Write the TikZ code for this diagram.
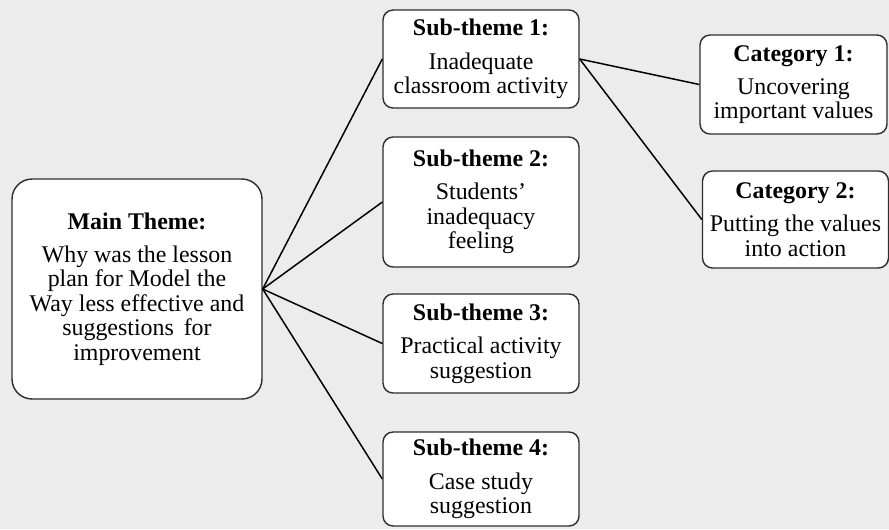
\documentclass[tikz,border=0pt]{standalone}
\usepackage{fontspec}
\setmainfont{Liberation Serif}
\usepackage{tikz}
\definecolor{bgcol}{RGB}{235,236,235}
\definecolor{edgecol}{RGB}{45,45,45}

\begin{document}
\begin{tikzpicture}[x=0.02cm, y=-0.02cm,
    every node/.style={font=\fontsize{13.6}{13.9}\selectfont},
    themebox/.style={draw=edgecol, fill=white, line width=0.8pt, align=center, inner sep=1pt},
    link/.style={black, line width=0.85pt}]
  \fill[bgcol] (0,0) rectangle (889,529);
  \useasboundingbox (0,0) rectangle (889,529);
  % main theme
  \node[themebox, rounded corners=0.4cm, minimum width=5cm, minimum height=4.4cm] (main) at (137,289)
    {\textbf{Main Theme:}\\[5pt] Why was the lesson\\ plan for Model the\\ Way less effective and\\ suggestions\, for\\ improvement};
  % sub-themes
  \node[themebox, rounded corners=0.2cm, minimum width=3.92cm, minimum height=1.96cm] (sub1) at (481,59)
    {\textbf{Sub-theme 1:}\\[5pt] Inadequate\\ classroom activity};
  \node[themebox, rounded corners=0.2cm, minimum width=3.92cm, minimum height=2.6cm] (sub2) at (481,202)
    {\textbf{Sub-theme 2:}\\[5pt] Students’\\ inadequacy\\ feeling};
  \node[themebox, rounded corners=0.2cm, minimum width=3.92cm, minimum height=1.98cm] (sub3) at (481,343.5)
    {\textbf{Sub-theme 3:}\\[5pt] Practical activity\\ suggestion};
  \node[themebox, rounded corners=0.2cm, minimum width=3.92cm, minimum height=1.88cm] (sub4) at (481,479)
    {\textbf{Sub-theme 4:}\\[5pt] Case study\\ suggestion};
  % categories
  \node[themebox, rounded corners=0.2cm, minimum width=3.74cm, minimum height=1.98cm] (cat1) at (793.5,84.5)
    {\textbf{Category 1:}\\[5pt] Uncovering\\ important values};
  \node[themebox, rounded corners=0.2cm, minimum width=3.72cm, minimum height=1.94cm] (cat2) at (795.5,219.5)
    {\textbf{Category 2:}\\[5pt] Putting the values\\ into action};
  % links
  \foreach \s in {sub1,sub2,sub3,sub4}
    \draw[link] (main.east) -- (\s.west);
  \draw[link] (sub1.east) -- (cat1.west);
  \draw[link] (sub1.east) -- (cat2.west);
\end{tikzpicture}
\end{document}
